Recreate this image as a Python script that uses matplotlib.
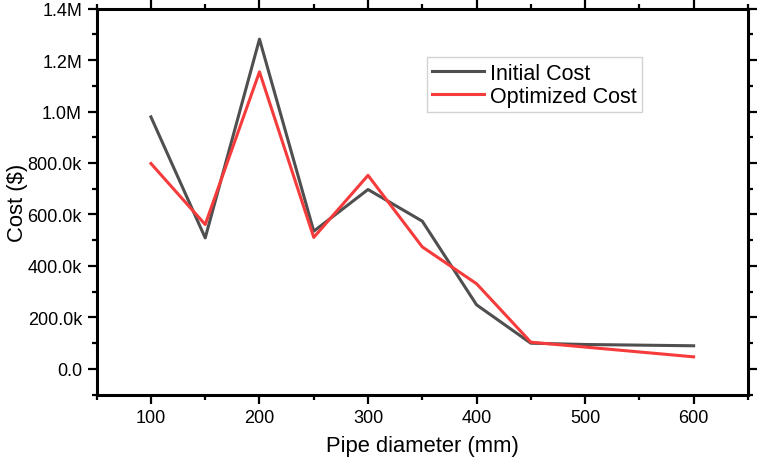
import numpy as np
import matplotlib
matplotlib.use("Agg")
import matplotlib.pyplot as plt
from matplotlib.ticker import MultipleLocator, FuncFormatter

plt.rcParams['font.family'] = ['Liberation Sans', 'DejaVu Sans']

# data
diameter = [100, 150, 200, 250, 300, 350, 400, 450, 500, 600]
initial_cost = [979e3, 509e3, 1281e3, 535e3, 697e3, 574e3, 249e3, 100e3, 95e3, 90e3]
optimized_cost = [798e3, 561e3, 1154e3, 511e3, 752e3, 474e3, 331e3, 104e3, 85e3, 47e3]

fig = plt.figure(figsize=(7.57, 4.60), dpi=100)
ax = fig.add_axes([0.1277, 0.1398, 0.8603, 0.8395])

ax.plot(diameter, initial_cost, '-', color='#4f4f4f', lw=2.2, label="Initial Cost")
ax.plot(diameter, optimized_cost, '-', color='#f53b3b', lw=2.2, label="Optimized Cost")

ax.set_xlim(50, 650)
ax.set_ylim(-100e3, 1.4e6)

ax.xaxis.set_major_locator(MultipleLocator(100))
ax.xaxis.set_minor_locator(MultipleLocator(50))
ax.yaxis.set_major_locator(MultipleLocator(200e3))
ax.yaxis.set_minor_locator(MultipleLocator(100e3))

def yfmt(v, pos):
    if abs(v) < 1:
        return "0.0"
    if v >= 1e6:
        return "{0:.1f}M".format(v / 1e6)
    return "{0:.1f}k".format(v / 1e3)

ax.yaxis.set_major_formatter(FuncFormatter(yfmt))

for s in ax.spines.values():
    s.set_linewidth(2.2)

ax.tick_params(which='both', direction='out', top=True, right=True,
               labeltop=False, labelright=False, width=1.6)
ax.tick_params(which='major', length=6.5, labelsize=13, pad=4)
ax.tick_params(which='minor', length=3.5)

ax.set_xlabel("Pipe diameter (mm)", fontsize=15.8, labelpad=6)
ax.set_ylabel("Cost ($)", fontsize=15.8)
ax.yaxis.set_label_coords(-0.106, 0.5)

leg = ax.legend(loc='upper left', bbox_to_anchor=(0.507, 0.874), borderaxespad=0,
                fontsize=15.5, frameon=True, fancybox=False, handlelength=2.4,
                handletextpad=0.3, borderpad=0.25, labelspacing=0.1)
leg.get_frame().set_edgecolor('#c8c8c8')
leg.get_frame().set_linewidth(1.0)

fig.savefig("out.png", dpi=100)
